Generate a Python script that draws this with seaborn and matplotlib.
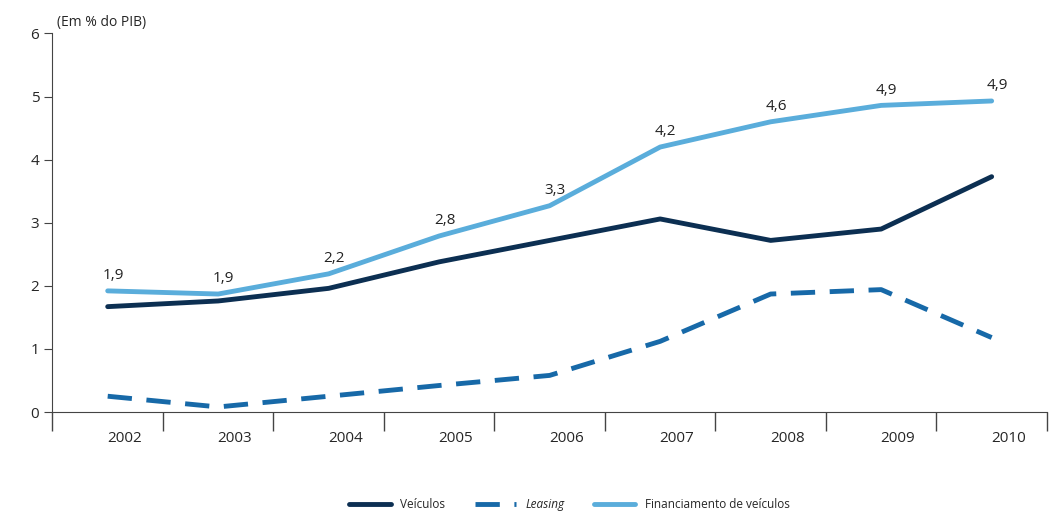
import numpy as np
import pandas as pd
import matplotlib.pyplot as plt
import seaborn as sns

anos = ["2002", "2003", "2004", "2005", "2006", "2007", "2008", "2009", "2010"]
veiculos = [1.67, 1.76, 1.96, 2.38, 2.72, 3.06, 2.72, 2.90, 3.73]
leasing = [0.25, 0.08, 0.25, 0.42, 0.58, 1.12, 1.87, 1.94, 1.18]
financiamento = [1.92, 1.87, 2.19, 2.79, 3.27, 4.20, 4.60, 4.86, 4.93]
rotulos = ["1,9", "1,9", "2,2", "2,8", "3,3", "4,2", "4,6", "4,9", "4,9"]

sns.set_style("white")
plt.rcParams["font.family"] = ["Open Sans", "DejaVu Sans"]

fig, ax = plt.subplots(figsize=(10.49, 5.15), dpi=100)
fig.subplots_adjust(left=0.05, right=0.998, top=0.935, bottom=0.2)

x = np.arange(len(anos))
sns.lineplot(x=x, y=veiculos, ax=ax, color="#0c2f52", lw=3.5, label="Veículos")
sns.lineplot(x=x, y=leasing, ax=ax, color="#1769a8", lw=3.5, label="Leasing")
ax.lines[-1].set_dashes([5, 3])
sns.lineplot(x=x, y=financiamento, ax=ax, color="#5aaddb", lw=3.5,
             label="Financiamento de veículos")

for xi, yi, t in zip(x, financiamento, rotulos):
    ax.text(xi + 0.05, yi + 0.12, t, ha="center", va="bottom", fontsize=11, color="#222")

ax.set_xlim(-0.5, 8.5)
ax.set_ylim(0, 6)
ax.set_xticks(x + 0.15)
ax.set_xticklabels(anos, fontsize=11)
ax.set_xticks(np.arange(-0.5, 9, 1), minor=True)
ax.tick_params(axis="x", which="both", bottom=True)
ax.tick_params(axis="x", which="major", length=0, pad=14)
ax.tick_params(axis="x", which="minor", length=14, width=1, color="#444", direction="out")
ax.set_yticks(range(7))
ax.tick_params(axis="y", left=True, length=6, color="#444", labelsize=11)
for s in ["top", "right"]:
    ax.spines[s].set_visible(False)
ax.spines["left"].set_color("#444")
ax.spines["bottom"].set_color("#444")
ax.text(0.005, 6.05, "(Em % do PIB)", transform=ax.get_yaxis_transform(), fontsize=10,
        ha="left", va="bottom")

leg = ax.legend(loc="upper center", bbox_to_anchor=(0.52, -0.2), ncol=3, frameon=False,
                fontsize=8.5, handlelength=3.5, columnspacing=2.5)
leg.get_texts()[1].set_style("italic")
fig.savefig("out.png", dpi=100)
